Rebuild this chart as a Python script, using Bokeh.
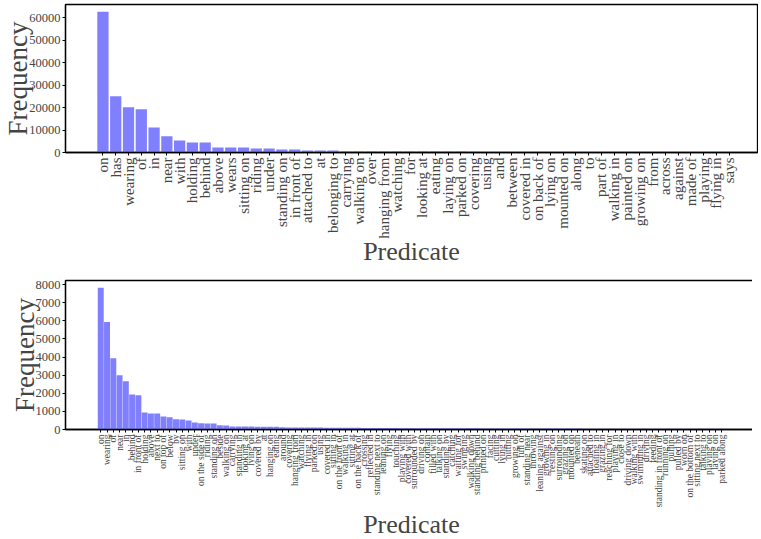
import math
import numpy as np
from bokeh.plotting import figure
from bokeh.layouts import column
from bokeh.models import Range1d, FixedTicker, ColumnDataSource
from bokeh.embed import file_html
from bokeh.resources import INLINE

top_predicates = [
    "on", "has", "wearing", "of", "in", "near", "with", "holding", "behind", "above",
    "wears", "sitting on", "riding", "under", "standing on", "in front of", "attached to", "at",
    "belonging to", "carrying", "walking on", "over", "hanging from", "watching", "for",
    "looking at", "eating", "laying on", "parked on", "covering", "using", "and", "between",
    "covered in", "on back of", "lying on", "mounted on", "along", "to", "part of",
    "walking in", "painted on", "growing on", "from", "across", "against", "made of",
    "playing", "flying in", "says",
]
top_counts = [
    62800, 25100, 20200, 19300, 11200, 7200, 5400, 4500, 4450, 2250,
    2200, 2200, 1800, 1750, 1350, 1330, 900, 880, 870, 500,
    480, 470, 460, 450, 440, 430, 420, 410, 400, 380,
    220, 210, 200, 190, 180, 170, 160, 150, 140, 130,
    120, 110, 100, 95, 90, 85, 80, 75, 70, 60,
]
top_yticks = [0, 10000, 20000, 30000, 40000, 50000, 60000]

bottom_predicates = [
    "on", "wearing", "of", "near", "in", "behind", "in front of", "holding", "above", "next to",
    "on top of", "below", "by", "sitting on", "with", "under", "on the side of", "riding",
    "standing on", "beside", "walking on", "carrying", "standing in", "looking at", "lying on",
    "covered by", "at", "hanging on", "eating", "around", "covering", "hanging from",
    "watching", "flying in", "parked on", "using", "covered in", "sitting in",
    "on the front of", "walking in", "sitting at", "on the back of", "crossing",
    "reflected in", "standing next to", "leaning on", "flying", "touching", "playing with",
    "covered with", "surrounded by", "driving on", "contain", "filled with", "talking on",
    "standing by", "catching", "waiting for", "swinging", "walking down", "standing behind",
    "printed on", "facing", "cutting", "lying in", "hitting", "growing on", "full of",
    "standing near", "throwing", "leaning against", "growing in", "resting on",
    "surrounding", "grazing on", "mounted on", "beneath", "skating on", "attached to",
    "floating in", "grazing in", "reaching for", "playing in", "close to", "driving down",
    "walking with", "swimming in", "driving", "feeding", "standing in front of",
    "running on", "pulling", "pulled by", "worn on", "on the bottom of", "sitting next to",
    "talking to", "playing on", "laying on", "parked along",
]
bottom_counts = [
    7830, 5940, 3940, 3000, 2670, 1940, 1890, 940, 890, 890,
    720, 670, 560, 550, 500, 390, 340, 330, 330, 230,
    220, 170, 165, 162, 160, 158, 155, 150, 145, 120,
    116, 113, 110, 108, 106, 104, 102, 100, 98, 96,
    94, 90, 86, 84, 82, 80, 78, 76, 75, 74,
    73, 72, 71, 70, 69, 68, 67, 66, 65, 64,
    63, 62, 61, 60, 59, 58, 57, 56, 55, 54,
    53, 52, 51, 50, 50, 49, 49, 48, 48, 47,
    47, 46, 46, 45, 45, 44, 44, 43, 43, 42,
    42, 41, 41, 40, 40, 39, 39, 38, 38, 37,
]
bottom_yticks = [0, 1000, 2000, 3000, 4000, 5000, 6000, 7000, 8000]

FONT = "Liberation Serif"
BAR = "#8080ff"


def make(preds, counts, yticks, ymax, pad_left, pad_right, xlabel_size,
         frame_h, border_top, bar_w, xlabel_standoff):
    n = len(preds)
    xs = np.arange(n)
    p = figure(frame_width=692, frame_height=frame_h,
               output_backend="svg", toolbar_location=None,
               x_range=Range1d(-pad_left, n - 1 + pad_right),
               y_range=Range1d(0, ymax),
               min_border_top=border_top, min_border_left=0,
               min_border_right=1, min_border_bottom=0)
    src = ColumnDataSource(dict(x=xs, top=counts))
    p.vbar(x="x", top="top", width=bar_w, source=src,
           fill_color=BAR, line_color=None)
    p.xgrid.visible = False
    p.ygrid.visible = False
    p.outline_line_color = "black"
    p.outline_line_width = 1.3
    p.background_fill_color = "white"
    p.border_fill_color = "white"

    xa = p.xaxis[0]
    xa.ticker = FixedTicker(ticks=list(range(n)))
    xa.major_label_overrides = {int(i): name for i, name in enumerate(preds)}
    xa.major_label_orientation = math.pi / 2
    xa.major_label_text_font = FONT
    xa.major_label_text_font_size = xlabel_size
    xa.major_label_standoff = 2
    xa.major_tick_in = 0
    xa.major_tick_out = 3
    xa.minor_tick_line_color = None
    xa.axis_line_width = 1.3
    xa.axis_label = "Predicate"
    xa.axis_label_text_font = FONT
    xa.axis_label_text_font_size = "26px"
    xa.axis_label_text_font_style = "normal"
    xa.axis_label_standoff = xlabel_standoff

    ya = p.yaxis[0]
    ya.ticker = FixedTicker(ticks=yticks)
    ya.major_label_text_font = FONT
    ya.major_label_text_font_size = "12.5px"
    ya.major_label_standoff = 2
    ya.major_tick_in = 0
    ya.major_tick_out = 3
    ya.minor_tick_line_color = None
    ya.axis_line_width = 1.3
    ya.axis_label = "Frequency"
    ya.axis_label_text_font = FONT
    ya.axis_label_text_font_size = "27px"
    ya.axis_label_text_font_style = "normal"
    ya.axis_label_standoff = -7
    return p


p1 = make(top_predicates, top_counts, top_yticks, 66000, 2.93, 2.21, "15px",
          148, 4, 0.88, -5)
p2 = make(bottom_predicates, bottom_counts, bottom_yticks, 8230, 5.62, 5.72, "9.5px",
          149, 12, 0.95, -1)

layout = column(p1, p2)
open("out.html", "w").write(file_html(layout, INLINE))
